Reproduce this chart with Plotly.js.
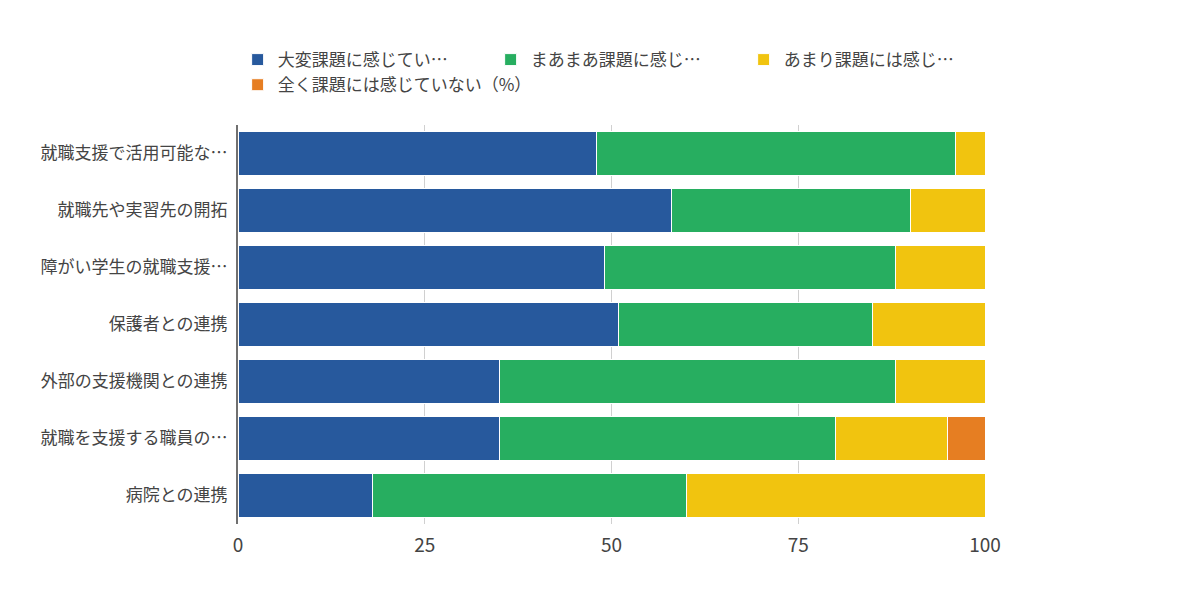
<!DOCTYPE html>
<html>
<head>
<meta charset="utf-8">
<script src="https://cdn.plot.ly/plotly-3.0.1.min.js"></script>
<style>html,body{margin:0;padding:0;background:#fff;}#chart{width:1200px;height:591px;}</style>
</head>
<body>
<div id="chart"></div>
<script>
const categories = [
  "就職支援で活用可能な…",
  "就職先や実習先の開拓",
  "障がい学生の就職支援…",
  "保護者との連携",
  "外部の支援機関との連携",
  "就職を支援する職員の…",
  "病院との連携"
];
const seriesNames = [
  "大変課題に感じてい…",
  "まあまあ課題に感じ…",
  "あまり課題には感じ…",
  "全く課題には感じていない（%）"
];
const veryMuch = [48, 58, 49, 51, 35, 35, 18];
const somewhat = [48, 32, 39, 34, 53, 45, 42];
const notMuch  = [4, 10, 12, 15, 12, 15, 40];
const notAtAll = [0, 0, 0, 0, 0, 5, 0];
const colors = ["#27599d", "#27ae60", "#f1c40f", "#e67e22"];
const values = [veryMuch, somewhat, notMuch, notAtAll];

const font = "'Noto Sans CJK JP', 'Noto Sans', sans-serif";

const traces = values.map((v, i) => ({
  type: "bar",
  orientation: "h",
  name: seriesNames[i],
  y: categories,
  x: v,
  marker: {color: colors[i], line: {color: "#ffffff", width: 1}},
  hoverinfo: "x+name"
}));

const layout = {
  width: 1200,
  height: 591,
  barmode: "stack",
  bargap: 0.245,
  paper_bgcolor: "#ffffff",
  plot_bgcolor: "#ffffff",
  font: {family: font, size: 17, color: "#444"},
  margin: {l: 238, r: 215, t: 125, b: 67},
  showlegend: true,
  legend: {
    orientation: "h",
    x: -0.0005, xanchor: "left",
    y: 1.055, yanchor: "bottom",
    entrywidth: 208,
    font: {family: font, size: 17, color: "#444"},
    traceorder: "normal"
  },
  xaxis: {
    range: [0, 100],
    dtick: 25,
    tick0: 0,
    showgrid: true,
    gridcolor: "#d0d0d0",
    gridwidth: 1,
    zeroline: false,
    showline: false,
    ticks: "",
    ticklabelstandoff: 8,
    tickfont: {family: font, size: 19, color: "#444"},
    fixedrange: true
  },
  yaxis: {
    type: "category",
    autorange: "reversed",
    showline: true,
    linecolor: "#707070",
    linewidth: 2,
    showgrid: false,
    zeroline: false,
    ticks: "",
    ticklabelstandoff: 5,
    tickfont: {family: font, size: 17, color: "#444"},
    fixedrange: true
  }
};

Plotly.newPlot("chart", traces, layout, {displayModeBar: false, staticPlot: true});
</script>
</body>
</html>
